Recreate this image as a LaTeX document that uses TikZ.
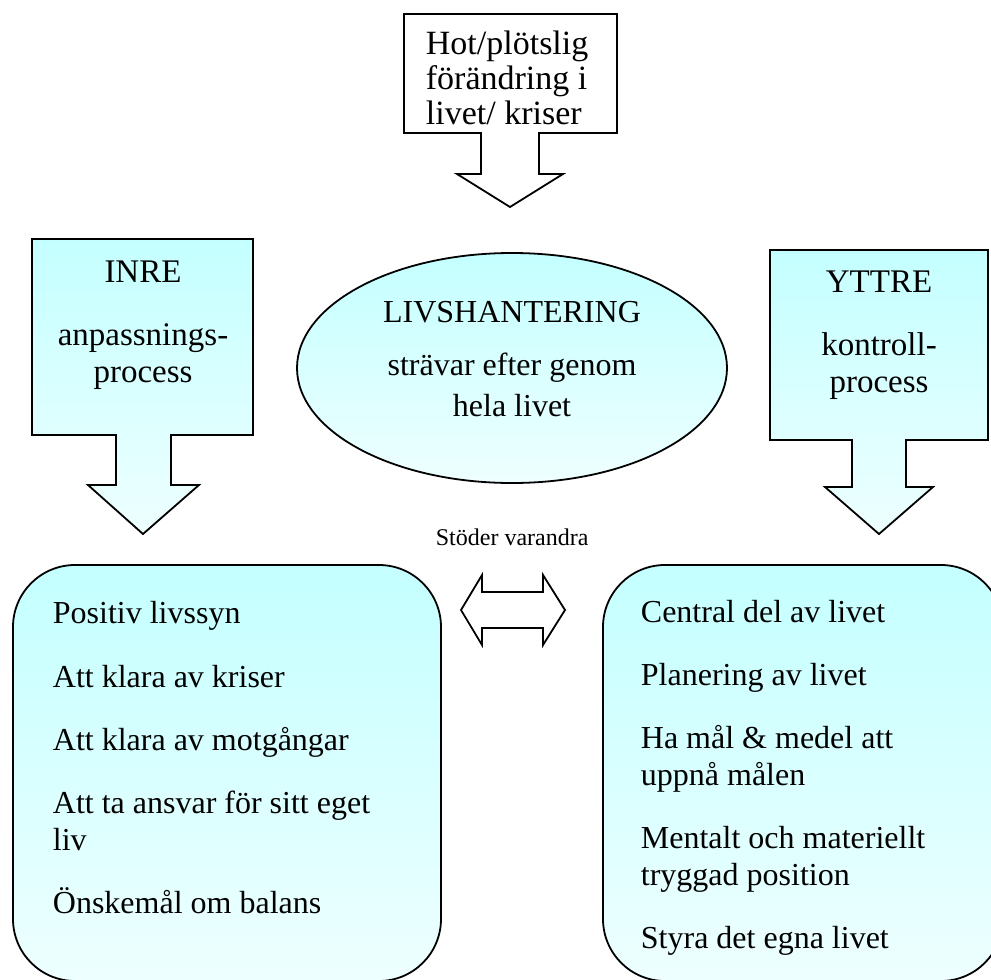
\documentclass[tikz,border=0pt]{standalone}
\usepackage{fontspec}
\setmainfont{Liberation Serif}
\usetikzlibrary{shapes.geometric}
\definecolor{cyantop}{RGB}{196,255,255}
\definecolor{cyanbot}{RGB}{238,255,255}
\begin{document}
\begin{tikzpicture}[x=1pt,y=-1pt, line width=1.8pt, line join=miter,
  shapefill/.style={draw=black, top color=cyantop, bottom color=cyanbot},
  whitefill/.style={draw=black, fill=white},
  body/.style={font=\fontsize{32}{37}\selectfont, inner sep=0pt, anchor=base west},
  headtxt/.style={font=\fontsize{33}{37}\selectfont, inner sep=0pt, anchor=base},
  toptxt/.style={font=\fontsize{34}{35}\selectfont, inner sep=0pt, anchor=base west},
  labeltxt/.style={font=\fontsize{24}{28}\selectfont, inner sep=0pt, anchor=base west}]
\useasboundingbox (0,0) rectangle (991,980);

% top callout
\path[whitefill] (404,14) -- (617,14) -- (617,133) -- (539,133) -- (539,174) -- (563,174)
  -- (510,207) -- (457,174) -- (481,174) -- (481,133) -- (404,133) -- cycle;
\node[toptxt] (t1) at (425,54) {Hot/plötslig};
\node[toptxt] (t2) at (425,89) {förändring i};
\node[toptxt] (t3) at (425,124) {livet/ kriser};

% INRE callout
\path[shapefill] (32,239) -- (253,239) -- (253,435) -- (171,435) -- (171,485) -- (199,485)
  -- (143,534) -- (88,485) -- (116,485) -- (116,435) -- (32,435) -- cycle;
\node[headtxt] (inre) at (143,282) {INRE};
\node[headtxt] (inre2) at (143,345) {anpassnings-};
\node[headtxt] (inre3) at (143,382) {process};

% YTTRE callout
\path[shapefill] (770,250) -- (988,250) -- (988,440) -- (906,440) -- (906,487) -- (933,487)
  -- (879,534) -- (825,487) -- (852,487) -- (852,440) -- (770,440) -- cycle;
\node[headtxt] (yttre) at (879,292) {YTTRE};
\node[headtxt] (yttre2) at (879,355) {kontroll-};
\node[headtxt] (yttre3) at (879,392) {process};

% ellipse
\node[ellipse, shapefill, minimum width=430pt, minimum height=230pt, inner sep=0pt] (ell) at (512,368) {};
\node[font=\fontsize{32}{37}\selectfont, inner sep=0pt, anchor=base] (e1) at (512,322) {LIVSHANTERING};
\node[font=\fontsize{32}{37}\selectfont, inner sep=0pt, anchor=base] (e2) at (512,375) {strävar efter genom};
\node[font=\fontsize{32}{37}\selectfont, inner sep=0pt, anchor=base] (e3) at (512,416) {hela livet};

% label and double arrow
\node[labeltxt] (stod) at (435,545) {Stöder varandra};
\path[whitefill] (461,610) -- (482,575) -- (482,592) -- (543,592) -- (543,575) -- (565,610)
  -- (543,645) -- (543,628) -- (482,628) -- (482,645) -- cycle;

% bottom boxes
\path[shapefill, rounded corners=62pt] (13,565) rectangle (441,981);
\path[shapefill, rounded corners=62pt] (603,565) rectangle (1003,981);

\node[body] (l1) at (52,623) {Positiv livssyn};
\node[body] (l2) at (52,687) {Att klara av kriser};
\node[body] (l3) at (52,750) {Att klara av motgångar};
\node[body] (l4a) at (52,813) {Att ta ansvar för sitt eget};
\node[body] (l4b) at (52,850) {liv};
\node[body] (l5) at (52,913) {Önskemål om balans};

\node[body] (r1) at (640,622) {Central del av livet};
\node[body] (r2) at (640,685) {Planering av livet};
\node[body] (r3a) at (640,748) {Ha mål \& medel att};
\node[body] (r3b) at (640,785) {uppnå målen};
\node[body] (r4a) at (640,848) {Mentalt och materiellt};
\node[body] (r4b) at (640,885) {tryggad position};
\node[body] (r5) at (640,948) {Styra det egna livet};
\end{tikzpicture}
\end{document}
